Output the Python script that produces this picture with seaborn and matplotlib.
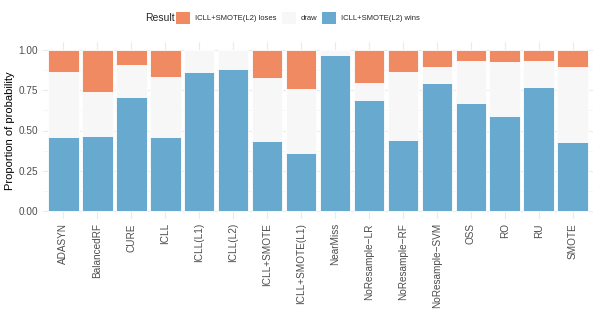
import pandas as pd
import seaborn as sb
import matplotlib.pyplot as plt
from matplotlib.patches import Patch

# proporcoes
metodos = ['ADASYN', 'BalancedRF', 'CURE', 'ICLL', 'ICLL(L1)', 'ICLL(L2)', 'ICLL+SMOTE',
           'ICLL+SMOTE(L1)', 'NearMiss', 'NoResample\u2212LR', 'NoResample\u2212RF',
           'NoResample\u2212SVM', 'OSS', 'RO', 'RU', 'SMOTE']
wins = [0.458, 0.468, 0.708, 0.462, 0.863, 0.884, 0.433, 0.362, 0.967, 0.689, 0.439,
        0.793, 0.669, 0.588, 0.772, 0.430]
draw = [0.407, 0.269, 0.197, 0.372, 0.137, 0.116, 0.395, 0.398, 0.033, 0.106, 0.422,
        0.101, 0.265, 0.337, 0.162, 0.466]
loses = [0.135, 0.263, 0.095, 0.166, 0.0, 0.0, 0.172, 0.240, 0.0, 0.205, 0.139,
         0.106, 0.066, 0.075, 0.066, 0.104]
rotulos = ['ICLL+SMOTE(L2) loses', 'draw', 'ICLL+SMOTE(L2) wins']
cores = ['#EF8A62', '#F7F7F7', '#67A9CF']

dados = pd.DataFrame({'metodo': metodos, 'wins': wins, 'draw': draw, 'loses': loses})
dados['ate_draw'] = dados['wins'] + dados['draw']
dados['total'] = dados['ate_draw'] + dados['loses']

sb.set_style('whitegrid')
plt.rcParams['font.family'] = ['Liberation Sans', 'DejaVu Sans']

fig = plt.figure(figsize=(5.98, 3.24), dpi=100)
ax = fig.add_axes([43 / 598, (324 - 219) / 324, 550 / 598, 177 / 324])

# empilhado: desenha do topo para a base
for col, cor in zip(['total', 'ate_draw', 'wins'], cores):
    sb.barplot(data=dados, x='metodo', y=col, color=cor, width=0.9, ax=ax,
               edgecolor='white', linewidth=0.6, saturation=1)

ax.set_xlim(-0.6, len(metodos) - 0.4)
ax.set_ylim(-0.05, 1.05)
ax.set_yticks([0, 0.25, 0.5, 0.75, 1.0])
ax.set_yticklabels(['0.00', '0.25', '0.50', '0.75', '1.00'])
ax.set_yticks([0.125, 0.375, 0.625, 0.875], minor=True)
ax.set_axisbelow(True)
ax.grid(True, which='major', color='#EBEBEB', linewidth=0.8)
ax.grid(True, which='minor', axis='y', color='#F3F3F3', linewidth=0.5)
for s in ax.spines.values():
    s.set_visible(False)
ax.tick_params(axis='both', length=0, colors='#4D4D4D', labelsize=7.2)
ax.tick_params(axis='x', rotation=90, pad=3)
for t in ax.get_xticklabels():
    t.set_va('top')
ax.set_xlabel('')
ax.set_ylabel('Proportion of probability', fontsize=8, color='black')
ax.yaxis.set_label_coords(-28 / 550, 0.5)

handles = [Patch(facecolor=c, edgecolor='none') for c in cores]
fig.text(145 / 598, 1 - 18 / 324, 'Result', fontsize=7.5, va='center', ha='left')
fig.legend(handles, rotulos, ncol=3, loc='center left', bbox_to_anchor=(176 / 598, 1 - 18 / 324),
           frameon=False, fontsize=5.5, handlelength=1.85, handleheight=1.85,
           handletextpad=0.65, columnspacing=0.65, borderpad=0, borderaxespad=0)

fig.savefig('out.png', dpi=100)
plt.close()
